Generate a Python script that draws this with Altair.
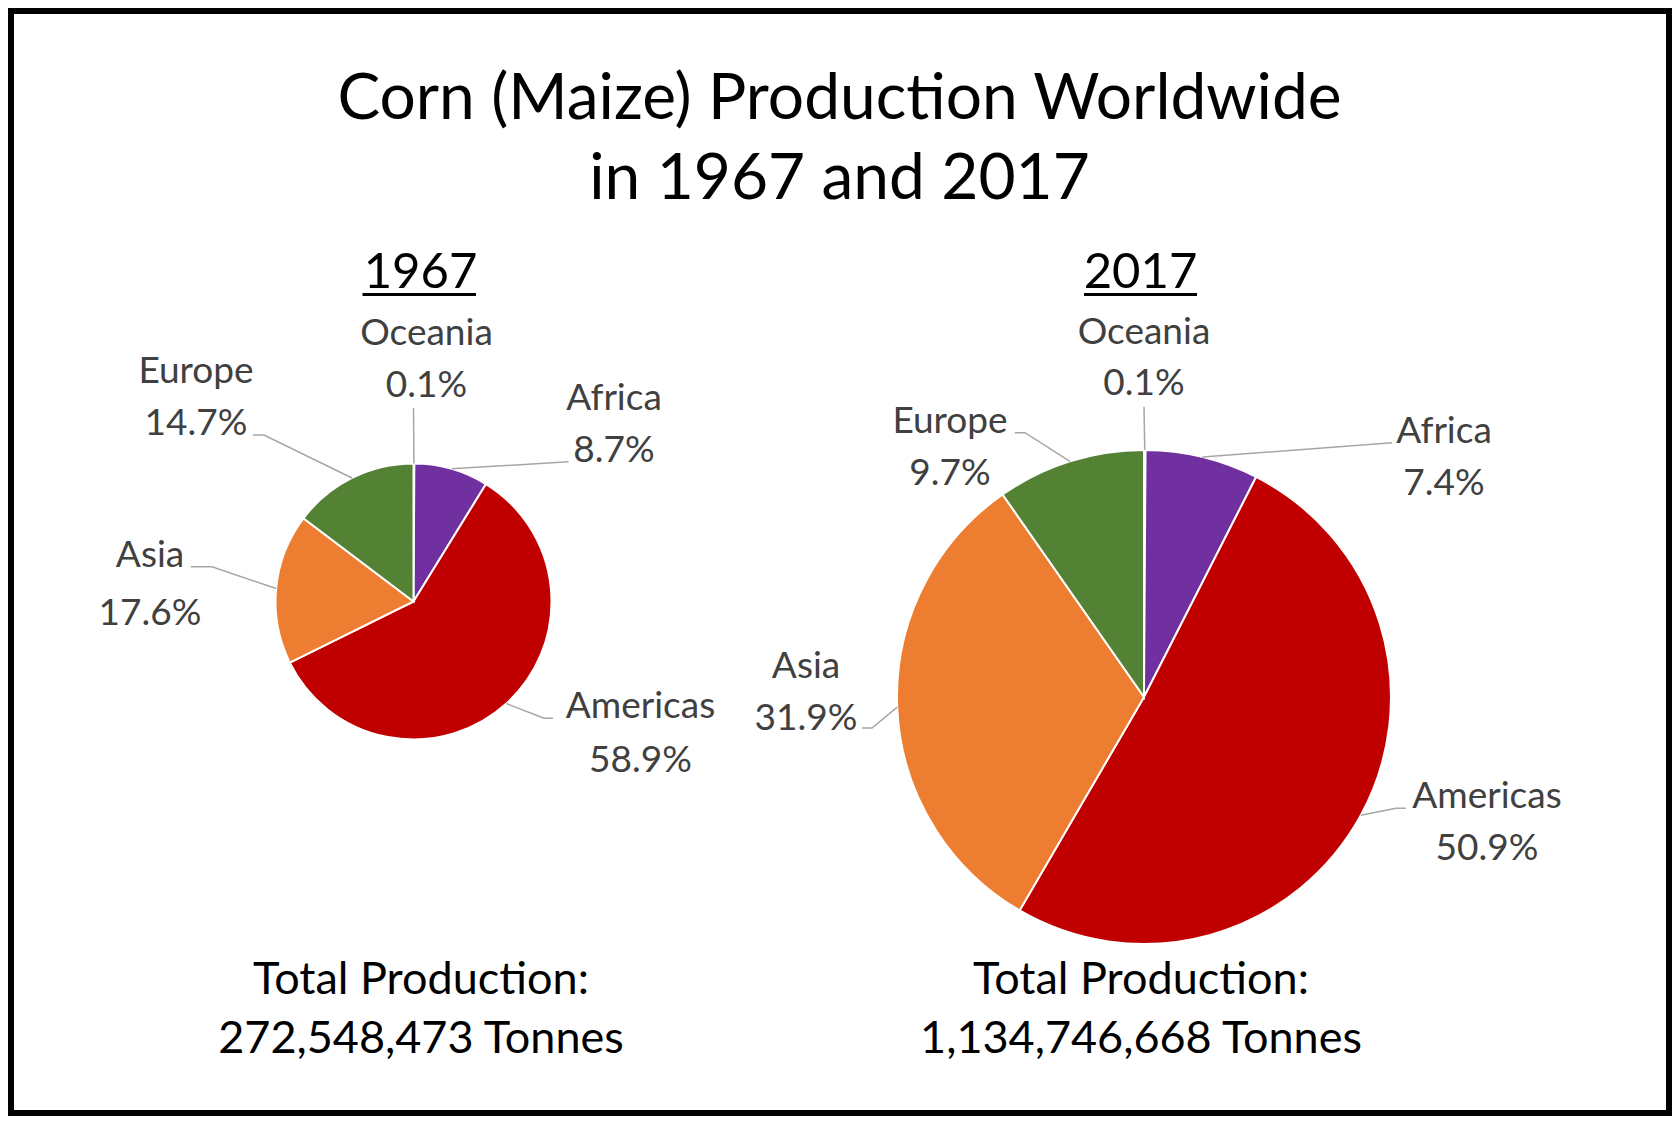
import math
import altair as alt
import pandas as pd

# ---------------- data ----------------
regions = ["Oceania", "Africa", "Americas", "Asia", "Europe"]
share_1967 = [0.1, 8.7, 58.9, 17.6, 14.7]
share_2017 = [0.1, 7.4, 50.9, 31.9, 9.7]
years = ["1967", "2017"]
total_tonnes = ["272,548,473", "1,134,746,668"]
title_lines = ["Corn (Maize) Production Worldwide", "in 1967 and 2017"]
total_caption = "Total Production:"
region_colors = ["#4472C4", "#7030A0", "#C00000", "#ED7D31", "#548235"]

# ---------------- layout (page pixel coordinates) ----------------
OFF = 8          # page margin of the html body
FONT = "Lato"
W, H = 1664, 1108

PIE = {"1967": (413.5, 601.5, 138), "2017": (1144.0, 697.0, 247)}   # cx, cy, r

# label layout: text centre x, baseline of 1st line, line gap, elbow, end of leader
LABEL = {
    ("1967", "Oceania"): (426.5, 345.0, 51.7, None, (413.5, 408.0)),
    ("1967", "Europe"): (196.0, 383.3, 51.7, (264.0, 435.0), (253.0, 435.0)),
    ("1967", "Africa"): (614.0, 410.0, 51.7, None, (568.6, 461.7)),
    ("1967", "Asia"): (150.0, 566.7, 58.3, (212.0, 566.7), (190.7, 566.7)),
    ("1967", "Americas"): (640.5, 718.3, 53.4, (544.0, 718.3), (553.0, 718.3)),
    ("2017", "Oceania"): (1144.0, 343.5, 51.7, None, (1144.0, 406.7)),
    ("2017", "Europe"): (950.0, 433.3, 51.7, (1025.0, 432.7), (1014.7, 432.7)),
    ("2017", "Africa"): (1444.0, 443.3, 51.7, None, (1392.0, 442.7)),
    ("2017", "Asia"): (806.0, 678.0, 51.7, (872.0, 728.0), (862.0, 728.0)),
    ("2017", "Americas"): (1487.0, 808.3, 51.7, (1396.0, 808.3), (1405.8, 808.3)),
}
SUB_X = {"1967": 420.5, "2017": 1140.5}
SUB_BASE = 288.0
UNDER = {"1967": (362.5, 476.0), "2017": (1084.0, 1197.0)}
UNDER_Y = 294.5
TOT_X = {"1967": 421.0, "2017": 1141.0}
TOT_BASE = (994.0, 1053.0)
TITLE_X = 839.5
TITLE_BASE = (119.0, 198.5)

# ---------------- tables built from the data ----------------
shares = {"1967": share_1967, "2017": share_2017}
pie_rows, text_rows, line_rows = [], [], []
for yr in years:
    cx, cy, r = PIE[yr]
    cum = 0.0
    for i, (reg, v) in enumerate(zip(regions, shares[yr])):
        pie_rows.append(dict(year=yr, region=reg, share=v, idx=i))
        mid = (cum + v / 2.0) / 100.0 * 2 * math.pi
        cum += v
        tx, ty, gap, elbow, end = LABEL[(yr, reg)]
        text_rows.append(dict(x=tx - OFF, y=ty - OFF, text=reg))
        text_rows.append(dict(x=tx - OFF, y=ty + gap - OFF, text=f"{v:.1f}%"))
        ex, ey = cx + r * math.sin(mid), cy - r * math.cos(mid)
        pts = [(ex, ey)]
        if elbow is not None:
            pts.append(elbow)
        pts.append(end)
        for k, (px, py) in enumerate(pts):
            line_rows.append(dict(key=f"{yr}-{reg}", pt=k, x=px - OFF, y=py - OFF))

pies = pd.DataFrame(pie_rows)
labels = pd.DataFrame(text_rows)
leaders = pd.DataFrame(line_rows)

title_df = pd.DataFrame([dict(x=TITLE_X - OFF, y=b - OFF, text=t)
                         for t, b in zip(title_lines, TITLE_BASE)])
sub_df = pd.DataFrame([dict(x=SUB_X[y] - OFF, y=SUB_BASE - OFF, text=y) for y in years])
under_df = pd.DataFrame([dict(x=UNDER[y][0] - OFF, x2=UNDER[y][1] - OFF, y=UNDER_Y - OFF)
                         for y in years])
tot_df = pd.DataFrame(
    [dict(x=TOT_X[y] - OFF, y=TOT_BASE[0] - OFF, text=total_caption) for y in years]
    + [dict(x=TOT_X[y] - OFF, y=TOT_BASE[1] - OFF, text=f"{t} Tonnes")
       for y, t in zip(years, total_tonnes)]
)

X = lambda f: alt.X(f, type="quantitative", scale=None, axis=None)
Y = lambda f: alt.Y(f, type="quantitative", scale=None, axis=None)


def pie_layer(yr):
    cx, cy, r = PIE[yr]
    return alt.Chart(pies[pies.year == yr]).mark_arc(
        radius=r, stroke="white", strokeWidth=2
    ).encode(
        theta=alt.Theta("share:Q", stack=True),
        order=alt.Order("idx:Q", sort="ascending"),
        color=alt.Color("region:N", scale=alt.Scale(domain=regions, range=region_colors),
                        legend=None),
        x=alt.value(cx - OFF),
        y=alt.value(cy - OFF),
    )


lines = alt.Chart(leaders).mark_line(color="#A6A6A6", strokeWidth=1.5).encode(
    x=X("x"), y=Y("y"), detail="key:N", order="pt:Q"
)
label_text = alt.Chart(labels).mark_text(
    font=FONT, fontSize=37, color="#404040", align="center", baseline="alphabetic"
).encode(x=X("x"), y=Y("y"), text="text:N")
title_text = alt.Chart(title_df).mark_text(
    font=FONT, fontSize=64, color="black", align="center", baseline="alphabetic"
).encode(x=X("x"), y=Y("y"), text="text:N")
sub_text = alt.Chart(sub_df).mark_text(
    font=FONT, fontSize=49, color="black", align="center", baseline="alphabetic"
).encode(x=X("x"), y=Y("y"), text="text:N")
under = alt.Chart(under_df).mark_rule(color="black", strokeWidth=3).encode(
    x=X("x"), x2="x2:Q", y=Y("y")
)
tot_text = alt.Chart(tot_df).mark_text(
    font=FONT, fontSize=45, color="black", align="center", baseline="alphabetic"
).encode(x=X("x"), y=Y("y"), text="text:N")

chart = alt.layer(
    pie_layer("1967"), pie_layer("2017"), lines, label_text,
    title_text, sub_text, under, tot_text
).properties(
    width=W, height=H, autosize="none", padding=0, background="white"
).configure_view(stroke="black", strokeWidth=12, fill="white")

chart.save("out.html", embed_options={"renderer": "svg", "actions": False})
